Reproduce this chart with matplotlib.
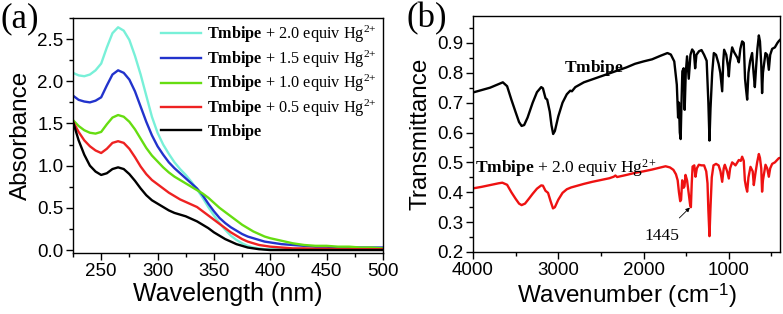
import matplotlib
matplotlib.use("Agg")
import matplotlib.pyplot as plt
from matplotlib.ticker import MultipleLocator

plt.rcParams['font.family'] = ['Liberation Sans', 'DejaVu Sans']
plt.rcParams['mathtext.fontset'] = 'custom'
plt.rcParams['mathtext.rm'] = 'Liberation Serif'
plt.rcParams['mathtext.bf'] = 'Liberation Serif:bold'
plt.rcParams['mathtext.it'] = 'Liberation Serif:italic'
plt.rcParams['mathtext.sf'] = 'Liberation Sans'

# ---------------- Panel (a) data: UV-vis ----------------
wavelength = [225, 230, 235, 240, 245, 250, 255, 260, 265, 270, 275, 280, 285, 290, 295,
              300, 305, 310, 315, 320, 325, 330, 335, 340, 345, 350, 355, 360, 365, 370,
              375, 380, 385, 390, 395, 400, 410, 420, 430, 440, 450, 460, 470, 480, 490, 500]

abs_0 = [1.52, 1.30, 1.13, 1.00, 0.93, 0.89, 0.91, 0.96, 0.98, 0.96, 0.90, 0.82, 0.73, 0.65, 0.59,
         0.55, 0.51, 0.47, 0.44, 0.42, 0.40, 0.37, 0.34, 0.30, 0.26, 0.21, 0.17, 0.13, 0.10, 0.07,
         0.05, 0.03, 0.02, 0.01, 0.005, 0.0, 0.0, 0.0, 0.0, 0.0, 0.0, 0.0, 0.0, 0.0, 0.0, 0.0]
abs_05 = [1.52, 1.40, 1.30, 1.23, 1.18, 1.15, 1.20, 1.27, 1.29, 1.27, 1.20, 1.10, 0.99, 0.90, 0.83,
          0.78, 0.73, 0.68, 0.64, 0.60, 0.57, 0.54, 0.51, 0.46, 0.41, 0.36, 0.31, 0.26, 0.21, 0.17,
          0.13, 0.10, 0.08, 0.06, 0.05, 0.04, 0.03, 0.02, 0.02, 0.015, 0.015, 0.01, 0.01, 0.01, 0.01, 0.01]
abs_10 = [1.54, 1.47, 1.42, 1.39, 1.38, 1.40, 1.49, 1.57, 1.60, 1.58, 1.52, 1.43, 1.32, 1.21, 1.12,
          1.05, 0.98, 0.92, 0.87, 0.83, 0.79, 0.75, 0.71, 0.67, 0.62, 0.56, 0.50, 0.45, 0.40, 0.35,
          0.30, 0.26, 0.22, 0.19, 0.16, 0.14, 0.11, 0.08, 0.06, 0.05, 0.05, 0.04, 0.04, 0.03, 0.03, 0.02]
abs_15 = [1.83, 1.78, 1.76, 1.75, 1.77, 1.81, 1.95, 2.08, 2.13, 2.10, 2.02, 1.88, 1.70, 1.52, 1.36,
          1.23, 1.13, 1.04, 0.97, 0.91, 0.85, 0.79, 0.73, 0.65, 0.55, 0.46, 0.38, 0.32, 0.27, 0.23,
          0.19, 0.16, 0.14, 0.12, 0.10, 0.09, 0.07, 0.06, 0.05, 0.04, 0.04, 0.03, 0.03, 0.03, 0.03, 0.03]
abs_20 = [2.10, 2.07, 2.06, 2.08, 2.13, 2.21, 2.40, 2.57, 2.64, 2.60, 2.49, 2.30, 2.08, 1.83, 1.58,
          1.39, 1.25, 1.14, 1.04, 0.96, 0.89, 0.81, 0.72, 0.62, 0.51, 0.41, 0.32, 0.24, 0.17, 0.12,
          0.08, 0.05, 0.03, 0.02, 0.01, 0.01, 0.01, 0.01, 0.01, 0.01, 0.01, 0.01, 0.01, 0.01, 0.01, 0.01]

uv_labels = [r"$\mathbf{Tmbipe}$ + 2.0 equiv Hg$^{2\!+}$",
             r"$\mathbf{Tmbipe}$ + 1.5 equiv Hg$^{2\!+}$",
             r"$\mathbf{Tmbipe}$ + 1.0 equiv Hg$^{2\!+}$",
             r"$\mathbf{Tmbipe}$ + 0.5 equiv Hg$^{2\!+}$",
             r"$\mathbf{Tmbipe}$"]
uv_series = [abs_20, abs_15, abs_10, abs_05, abs_0]
uv_colors = ['#78F0D8', '#2233CC', '#66DD11', '#EE2222', '#000000']

# ---------------- Panel (b) data: FTIR ----------------
wn_free = [4000, 3900, 3800, 3700, 3650, 3600, 3550, 3500, 3460, 3430, 3400, 3360, 3300, 3250,
           3200, 3180, 3150, 3130, 3100, 3080, 3060, 3040, 3000, 2950, 2900, 2860, 2840, 2800,
           2700, 2600, 2500, 2400, 2300, 2200, 2100, 2000, 1900, 1800, 1720, 1680, 1640, 1610,
           1595, 1585, 1575, 1565, 1555, 1545, 1530, 1518, 1505, 1490, 1470, 1450, 1430, 1410,
           1395, 1380, 1350, 1320, 1290, 1260, 1240, 1227, 1215, 1195, 1176, 1150, 1120, 1100,
           1078, 1065, 1055, 1030, 1010, 1000, 990, 961, 940, 920, 900, 883, 865, 844, 825, 810,
           800, 785, 770, 750, 727, 710, 695, 680, 665, 648, 635, 620, 610, 600, 570, 550, 531,
           515, 492, 460, 430, 414, 400]
t_free = [0.734, 0.742, 0.750, 0.762, 0.768, 0.755, 0.710, 0.668, 0.635, 0.622, 0.625, 0.650, 0.700, 0.735,
          0.752, 0.748, 0.715, 0.710, 0.670, 0.625, 0.595, 0.605, 0.654, 0.700, 0.728, 0.740, 0.738, 0.752,
          0.768, 0.778, 0.788, 0.798, 0.808, 0.818, 0.830, 0.838, 0.845, 0.857, 0.866, 0.861, 0.838, 0.760,
          0.650, 0.700, 0.600, 0.578, 0.700, 0.805, 0.815, 0.676, 0.800, 0.855, 0.780, 0.860, 0.878, 0.870,
          0.815, 0.860, 0.872, 0.876, 0.860, 0.840, 0.700, 0.573, 0.680, 0.800, 0.866, 0.860, 0.830, 0.800,
          0.738, 0.840, 0.877, 0.860, 0.820, 0.788, 0.830, 0.885, 0.870, 0.860, 0.850, 0.835, 0.880, 0.905, 0.900, 0.780,
          0.750, 0.710, 0.800, 0.840, 0.866, 0.800, 0.752, 0.820, 0.880, 0.925, 0.905, 0.830, 0.732, 0.800, 0.866, 0.860, 0.810,
          0.860, 0.880, 0.885, 0.900, 0.906, 0.910]

wn_hg = [4000, 3900, 3800, 3700, 3656, 3600, 3550, 3500, 3460, 3430, 3390, 3340, 3300, 3250, 3200,
         3180, 3150, 3120, 3090, 3062, 3040, 3000, 2950, 2900, 2850, 2800, 2700, 2600, 2500, 2400,
         2350, 2330, 2310, 2200, 2100, 2000, 1900, 1800, 1742, 1690, 1650, 1620, 1600, 1585, 1570,
         1560, 1547, 1530, 1520, 1508, 1490, 1470, 1455, 1445, 1435, 1425, 1405, 1391, 1375, 1352,
         1320, 1290, 1265, 1250, 1240, 1227, 1215, 1200, 1180, 1150, 1120, 1098, 1078, 1060, 1047,
         1020, 1000, 985, 961, 940, 922, 900, 883, 860, 844, 825, 812, 800, 785, 770, 746, 720, 707,
         690, 668, 648, 635, 620, 610, 600, 570, 550, 531, 515, 492, 460, 414, 400]
t_hg = [0.413, 0.418, 0.424, 0.430, 0.432, 0.425, 0.400, 0.378, 0.362, 0.357, 0.362, 0.380, 0.395, 0.412, 0.423,
        0.422, 0.405, 0.398, 0.370, 0.346, 0.350, 0.375, 0.398, 0.410, 0.416, 0.420, 0.428, 0.435, 0.441, 0.447,
        0.452, 0.456, 0.451, 0.458, 0.465, 0.470, 0.476, 0.483, 0.487, 0.483, 0.475, 0.460, 0.440, 0.400, 0.370,
        0.375, 0.440, 0.415, 0.420, 0.458, 0.440, 0.395, 0.360, 0.350, 0.430, 0.486, 0.490, 0.452, 0.480, 0.492,
        0.490, 0.490, 0.470, 0.430, 0.340, 0.253, 0.350, 0.450, 0.490, 0.495, 0.490, 0.470, 0.435, 0.480, 0.492,
        0.470, 0.446, 0.480, 0.500, 0.495, 0.490, 0.500, 0.508, 0.505, 0.519, 0.505, 0.440, 0.420, 0.402, 0.450, 0.485, 0.470, 0.424,
        0.460, 0.500, 0.528, 0.515, 0.480, 0.402, 0.440, 0.492, 0.480, 0.452, 0.480, 0.495, 0.500, 0.514, 0.515]

W, H = 783, 314
fig = plt.figure(figsize=(W / 100, H / 100), dpi=100)

def px_axes(l, t, r, b):
    return fig.add_axes([l / W, (H - b) / H, (r - l) / W, (b - t) / H])

def style(ax):
    for s in ax.spines.values():
        s.set_linewidth(1.0)
    ax.tick_params(which='major', direction='out', length=5, width=1.0, labelsize=13.5, pad=2)
    ax.tick_params(which='minor', direction='out', length=3, width=1.0)

# Panel (a)
ax1 = px_axes(73, 18, 383, 253)
for y, c, lab in zip(uv_series, uv_colors, uv_labels):
    ax1.plot(wavelength, y, color=c, lw=1.7, label=lab)
ax1.set_xlim(225, 500)
ax1.set_ylim(-0.035, 2.75)
ax1.xaxis.set_major_locator(MultipleLocator(50))
ax1.xaxis.set_minor_locator(MultipleLocator(25))
ax1.yaxis.set_major_locator(MultipleLocator(0.5))
ax1.yaxis.set_minor_locator(MultipleLocator(0.25))
style(ax1)
ax1.set_xlabel("Wavelength (nm)", fontsize=18, labelpad=2)
ax1.set_ylabel("Absorbance", fontsize=17.5, labelpad=4)
leg = ax1.legend(loc='upper left', bbox_to_anchor=(0.285, 0.975), frameon=False,
                 prop={'family': 'Liberation Serif', 'size': 11.7},
                 handlelength=2.45, handletextpad=0.35, labelspacing=0.2, borderpad=0, borderaxespad=0)
fig.text(1 / W, 1 - 19 / H, "(a)", family='Liberation Serif', fontsize=25, va='center', ha='left')

# Panel (b)
ax2 = px_axes(473, 16, 780, 252)
ax2.plot(wn_free, t_free, color='black', lw=1.7)
ax2.plot(wn_hg, t_hg, color='#EE1111', lw=1.7)
ax2.set_xlim(4000, 400)
ax2.set_ylim(0.2, 0.99)
ax2.xaxis.set_major_locator(MultipleLocator(1000))
ax2.xaxis.set_minor_locator(MultipleLocator(500))
ax2.yaxis.set_major_locator(MultipleLocator(0.1))
ax2.yaxis.set_minor_locator(MultipleLocator(0.05))
ax2.yaxis.set_major_formatter(matplotlib.ticker.FormatStrFormatter('%.1f'))
style(ax2)
ax2.set_xlabel(r"Wavenumber (cm$^{\mathsf{-1}}$)", fontsize=17.5, labelpad=2)
ax2.set_ylabel("Transmittance", fontsize=17.5, labelpad=4)
ax2.text(2580, 0.815, r"$\mathbf{Tmbipe}$", fontsize=12.5, ha='center', va='center')
ax2.text(3980, 0.48, r"$\mathbf{Tmbipe}$ + 2.0 equiv Hg$^{2\!+}$", fontsize=12.5, ha='left', va='center',
         family='Liberation Serif')
ax2.annotate("1445", xy=(1445, 0.352), xytext=(1790, 0.255), fontsize=12.5, family='Liberation Serif',
             ha='center', va='center',
             arrowprops=dict(arrowstyle='-|>', color='black', lw=0.6, mutation_scale=6, shrinkA=7, shrinkB=1))
fig.text(406 / W, 1 - 19 / H, "(b)", family='Liberation Serif', fontsize=25, va='center', ha='left')

fig.savefig("out.png", dpi=100)
